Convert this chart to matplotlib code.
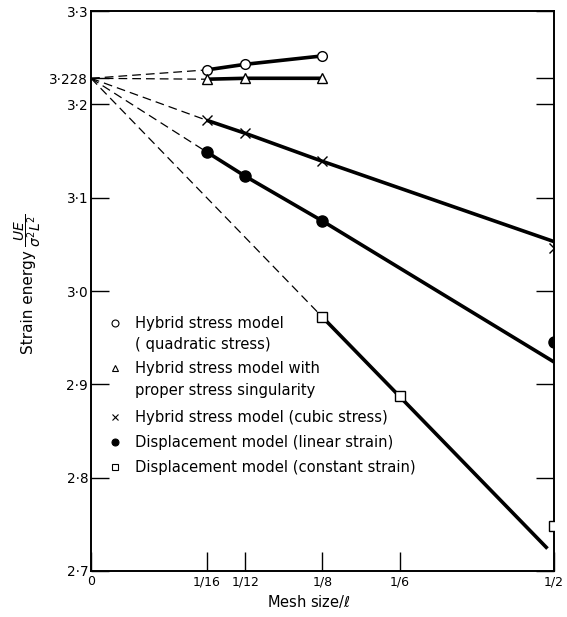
import numpy as np
import matplotlib.pyplot as plt

plt.rcParams['font.family'] = 'DejaVu Sans'

# common limit at zero mesh size
y0 = 3.228

# mesh sizes (fraction of l)
h_hyb = [1/16, 1/12, 1/8]
h_all = [1/16, 1/12, 1/8, 1/4]
h_cst = [1/8, 1/6, 1/4]

quad = [3.237, 3.243, 3.252]          # hybrid, quadratic stress
sing = [3.227, 3.228, 3.228]          # hybrid, proper singularity
cubic = [3.183, 3.169, 3.139, 3.046]  # hybrid, cubic stress
lin = [3.149, 3.123, 3.075, 2.945]    # displacement, linear strain
cst = [2.972, 2.887, 2.748]           # displacement, constant strain

# end points of the solid fitted lines
cubic_end = (0.25, 3.053)
lin_end = (0.25, 2.924)
cst_end = (0.2465, 2.724)

xticks = [0, 1/16, 1/12, 1/8, 1/6, 1/4]
xlabels = ['0', '1/16', '1/12', '1/8', '1/6', '1/2']
yticks = [2.7, 2.8, 2.9, 3.0, 3.1, 3.2, 3.228, 3.3]
ylabels = ['2·7', '2·8', '2·9', '3·0', '3·1', '3·2', '3·228', '3·3']

fig = plt.figure(figsize=(5.67, 6.17), dpi=100)
ax = fig.add_axes([0.1605, 0.0746, 0.8165, 0.9074])

dash = dict(color='black', lw=0.9, ls=(0, (7, 4)))
solid = dict(color='black', lw=2.6, solid_capstyle='butt')
mk = dict(color='black', ls='none', ms=7, mew=1.0, zorder=3)

# dashed extrapolations to zero mesh size
for xs, ys in [(h_hyb, quad), (h_hyb, sing), (h_all, cubic), (h_all, lin), (h_cst, cst)]:
    ax.plot([0, xs[0]], [y0, ys[0]], **dash)

ax.plot(h_hyb, quad, **solid)
ax.plot(h_hyb, sing, **solid)
ax.plot(h_all[:3] + [cubic_end[0]], cubic[:3] + [cubic_end[1]], **solid)
ax.plot(h_all[:3] + [lin_end[0]], lin[:3] + [lin_end[1]], **solid)
ax.plot(h_cst[:2] + [cst_end[0]], cst[:2] + [cst_end[1]], **solid)

ax.plot(h_hyb, quad, marker='o', mfc='white', **mk)
ax.plot(h_hyb, sing, marker='^', mfc='white', color='black', ls='none', ms=6.5, mew=1.0, zorder=3)
ax.plot(h_all, cubic, marker='x', **mk)
ax.plot(h_all, lin, marker='o', mfc='black', color='black', ls='none', ms=8, zorder=3)
ax.plot(h_cst, cst, marker='s', mfc='white', ls='none', color='black', ms=6.5, mew=1.0, zorder=3)

ax.set_xlim(0, 0.25)
ax.set_ylim(2.7, 3.3)
ax.set_xticks(xticks)
ax.set_xticklabels(xlabels, fontsize=9)
ax.set_yticks(yticks)
ax.set_yticklabels(ylabels, fontsize=9.8)
ax.tick_params(axis='x', direction='in', length=14, width=1.0, pad=3)
ax.tick_params(axis='y', direction='in', length=13, width=1.0, right=True, pad=2)
for s in ax.spines.values():
    s.set_linewidth(1.4)

ax.set_xlabel('Mesh size/$\\ell$', fontsize=10.5, labelpad=3)
ax.xaxis.set_label_coords(0.47, -0.04)

# y label: words plus a small stacked fraction
fig.text(0.05, 0.51, 'Strain energy', rotation=90, fontsize=11, ha='center', va='center')
fig.text(0.048, 0.626, '$\\dfrac{UE}{\\sigma^2 L^2}$', rotation=90, fontsize=10,
         ha='center', va='center')

# legend drawn as text: (marker, face, lines, y of each line)
leg = [
    ('o', 'white', ['Hybrid stress model', '( quadratic stress)'], [2.9657, 2.9432]),
    ('^', 'white', ['Hybrid stress model with', 'proper stress singularity'], [2.9175, 2.8939]),
    ('x', 'black', ['Hybrid stress model (cubic stress)'], [2.8650]),
    ('o', 'black', ['Displacement model (linear strain)'], [2.8382]),
    ('s', 'white', ['Displacement model (constant strain)'], [2.8114]),
]
for m, fc, lines, ys in leg:
    ax.plot([0.0128], [ys[0]], marker=m, mfc=fc, color='black',
            ms=5, mew=0.8, ls='none')
    for txt, yy in zip(lines, ys):
        ax.text(0.0237, yy, txt, fontsize=10.6, va='center', ha='left')

fig.savefig('out.png', dpi=100)
